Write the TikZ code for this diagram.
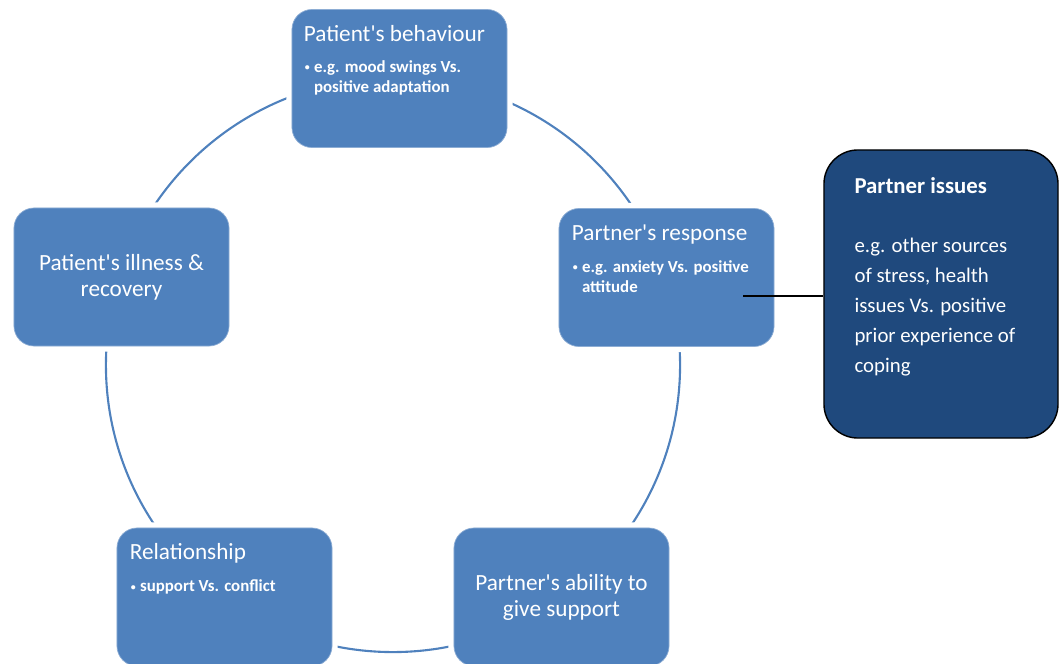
\documentclass[tikz,border=0pt]{standalone}
\usepackage{fontspec}
\setmainfont{Carlito}
\usepackage{xcolor}
\usepackage{tikz}
\usetikzlibrary{positioning}

\definecolor{boxblue}{HTML}{4F81BD}
\definecolor{issueblue}{HTML}{1F497D}
\newcommand{\titlefont}{\fontsize{16.5}{18.5}\selectfont}
\newcommand{\pointfont}{\fontsize{12}{14.2}\selectfont\bfseries}
\newcommand{\apos}{\textquotesingle}
\newcommand{\dotmark}{\raisebox{0.15ex}{\fontsize{7}{7}\selectfont\textbullet}}
\newcommand{\pointlist}[1]{\begin{tabular}[t]{@{}l@{\hspace{3pt}}l@{}}#1\end{tabular}}

\tikzset{
  cyclebox/.style={fill=boxblue,draw=boxblue!65!white,line width=0.5pt,rounded corners=0.5cm,
    minimum width=5.375cm,minimum height=3.45cm,inner sep=0pt,
    preaction={draw=white,line width=8pt}},
  boxtitle/.style={text=white,font=\titlefont,anchor=base west,inner sep=0pt},
  boxpoint/.style={text=white,font=\pointfont,anchor=base west,inner sep=0pt},
  boxcentre/.style={text=white,font=\titlefont,align=center,inner sep=0pt},
  ring/.style={draw=boxblue,line width=1.5pt},
  issuebox/.style={fill=issueblue,draw=black,line width=1pt,rounded corners=0.85cm,
    minimum width=5.85cm,minimum height=7.2cm,inner sep=0pt},
  link/.style={draw=black,line width=1pt}
}

\begin{document}
\begin{tikzpicture}[x=0.025cm,y=-0.025cm]
\useasboundingbox (0,0) rectangle (1061,664);
\coordinate (hub) at (393,365);
\draw[ring] (hub) circle[radius=7.175cm];

% cycle boxes
\node[cyclebox] (behav) at (399.5,78.5) {};
\node[cyclebox] (resp) at (666.5,277.5) {};
\node[cyclebox] (ability) at (561.5,597) {};
\node[cyclebox] (relation) at (224.5,597) {};
\node[cyclebox] (illness) at (121.5,277) {};

% box texts
\node[boxtitle] (behav-t) at ([shift={(12,32)}]behav.north west) {Patient\apos s behaviour};
\node[boxpoint] (behav-p) at ([shift={(13,63)}]behav.north west)
  {\pointlist{\dotmark & e.g. mood swings Vs.\\ & positive adaptation}};
\node[boxtitle] (resp-t) at ([shift={(13,32)}]resp.north west) {Partner\apos s response};
\node[boxpoint] (resp-p) at ([shift={(14,64)}]resp.north west)
  {\pointlist{\dotmark & e.g. anxiety Vs. positive\\ & attitude}};
\node[boxtitle] (relation-t) at ([shift={(13,32)}]relation.north west) {Relationship};
\node[boxpoint] (relation-p) at ([shift={(14,64)}]relation.north west)
  {\pointlist{\dotmark & support Vs. conflict}};
\node[boxcentre] (ability-t) at (ability.center) {Partner\apos s ability to\\give support};
\node[boxcentre] (illness-t) at (illness.center) {Patient\apos s illness \&\\recovery};

% side box
\node[issuebox] (issues) at (941,294) {};
\node[text=white,font=\fontsize{16.2}{18}\selectfont\bfseries,anchor=base west,inner sep=0pt]
  (issues-t) at ([shift={(31,44)}]issues.north west) {Partner issues};
\node[text=white,font=\fontsize{14.8}{21.3}\selectfont,anchor=north west,align=left,inner sep=0pt]
  (issues-p) at ([shift={(31,89)}]issues.north west)
  {e.g. other sources\\of stress, health\\issues Vs. positive\\prior experience of\\coping};

\coordinate (tap) at (743,296);
\draw[link] (tap) -- (tap -| issues.west);
\end{tikzpicture}
\end{document}
